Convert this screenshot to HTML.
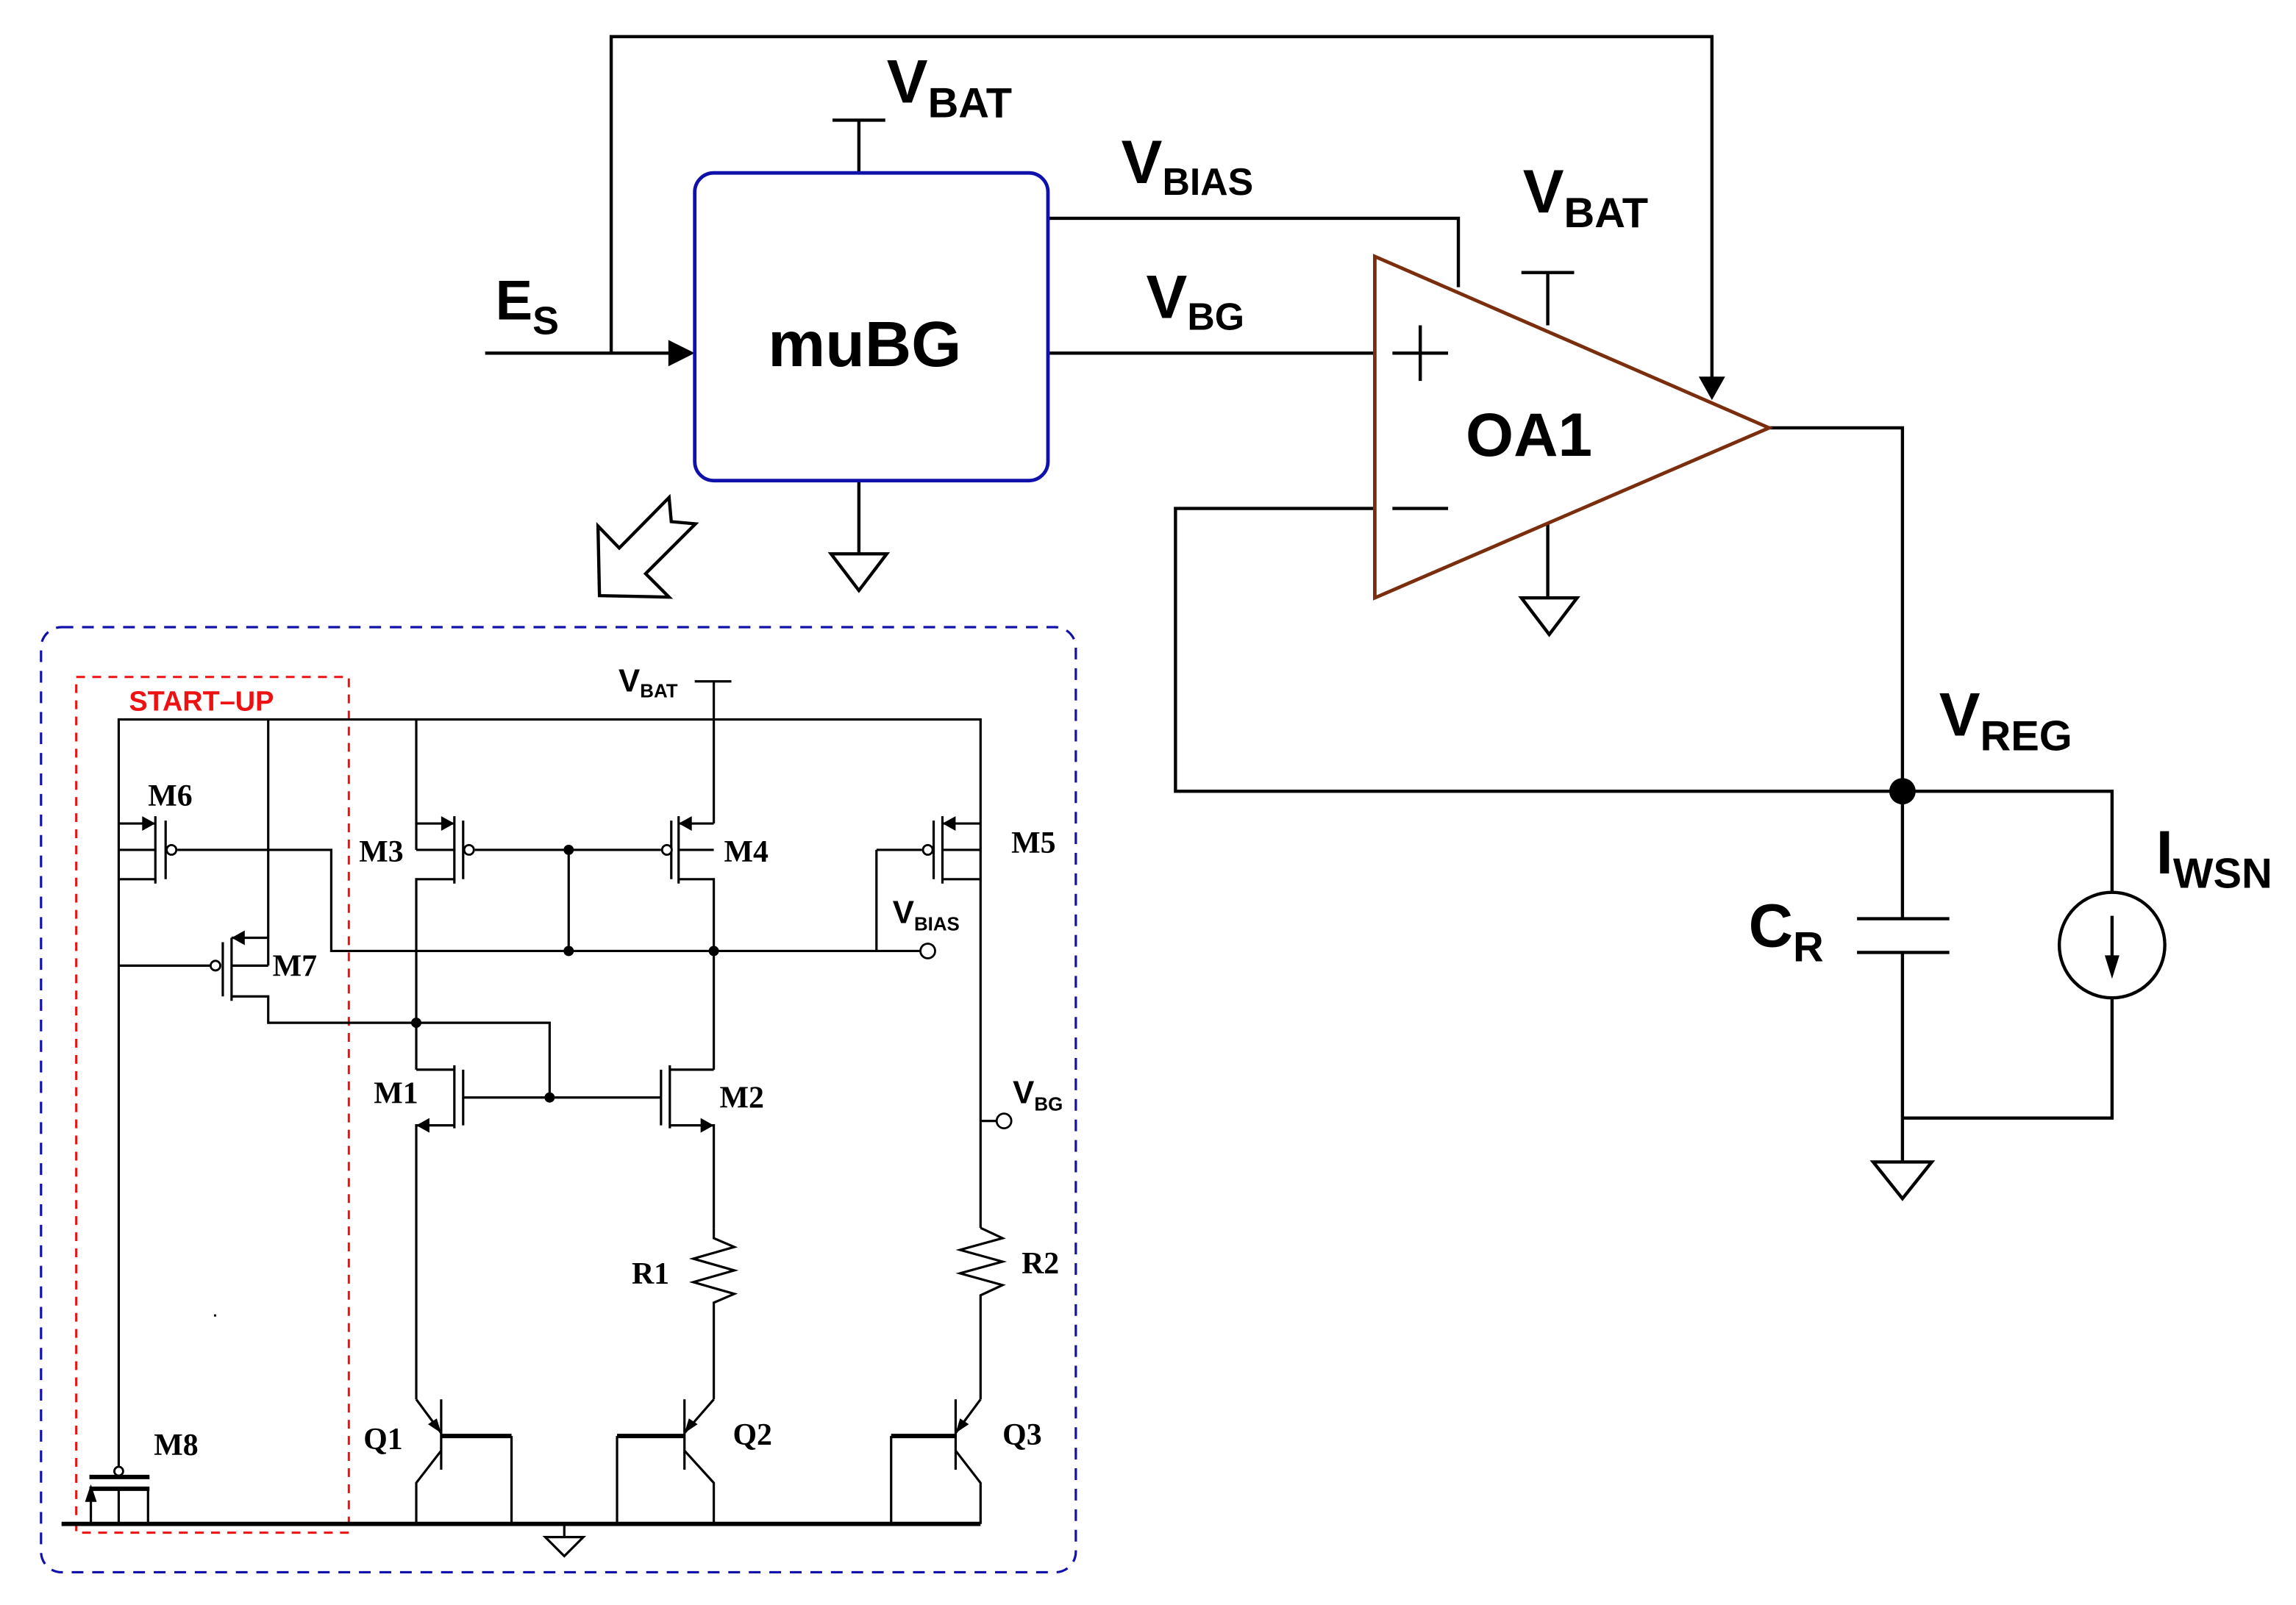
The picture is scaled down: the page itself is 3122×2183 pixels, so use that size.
<!DOCTYPE html>
<html><head><meta charset="utf-8"><style>
html,body{margin:0;padding:0;background:#fff;}
svg{display:block;}
.s{font-family:"Liberation Sans",sans-serif;font-weight:bold;}
.r{font-family:"Liberation Serif",serif;font-weight:bold;font-size:21px;}
</style></head><body>
<svg width="3122" height="2183" viewBox="0 0 1566.5 1095.3" preserveAspectRatio="xMinYMin meet" xmlns="http://www.w3.org/2000/svg">
<rect width="1566.5" height="1095.3" fill="#fff"/>
<g fill="none" stroke="#000" stroke-width="2.2">
<polyline points="417,241 417,25 1168,25 1168,262"/>
<line x1="331" y1="241" x2="460" y2="241"/>
<line x1="586" y1="118" x2="586" y2="82"/><line x1="568" y1="82" x2="604" y2="82"/>
<line x1="586" y1="328" x2="586" y2="378"/>
<polygon points="567,378 605,378 586,403"/>
<polyline points="715,149 995,149 995,196"/>
<line x1="715" y1="241" x2="938" y2="241"/>
<line x1="1056" y1="186" x2="1056" y2="222"/><line x1="1038" y1="186" x2="1074" y2="186"/>
<line x1="1056" y1="358" x2="1056" y2="408"/>
<polygon points="1038,408 1076,408 1057,433"/>
<polyline points="1207,292 1298,292 1298,627"/>
<polyline points="938,347 802,347 802,540 1441,540 1441,609"/>
<line x1="1298" y1="650" x2="1298" y2="763"/>
<line x1="1267" y1="627" x2="1330" y2="627"/><line x1="1267" y1="650" x2="1330" y2="650"/>
<circle cx="1441" cy="645" r="36"/>
<polyline points="1441,681 1441,763 1298,763"/>
<line x1="1298" y1="763" x2="1298" y2="793"/>
<polygon points="1278,793 1318,793 1298,818"/>
<line x1="1441" y1="625" x2="1441" y2="660"/>
<line x1="950" y1="241" x2="988" y2="241"/><line x1="969" y1="222" x2="969" y2="260"/>
<line x1="950" y1="347" x2="988" y2="347"/>
<polygon points="408,359 422.5,374 456.5,339.5 458,356 474.5,357.5 440.5,391.5 456.5,407.5 409,406.5"/>
</g>
<polygon points="456,232 474,241 456,250" fill="#000"/>
<polygon points="1159,257 1177,257 1168,273" fill="#000"/>
<polygon points="1436,652 1446,652 1441,668" fill="#000"/>
<circle cx="1298" cy="540" r="9" fill="#000"/>
<rect x="474" y="118" width="241" height="210" rx="13" fill="none" stroke="#1010aa" stroke-width="2.4"/>
<polygon points="938,175 1207,292 938,408" fill="none" stroke="#7a2e0e" stroke-width="2.4"/>
<g class="s" fill="#000">
<text x="338" y="218" font-size="38">E<tspan font-size="27" dy="10">S</tspan></text>
<text x="605" y="70" font-size="42">V<tspan font-size="29" dy="10">BAT</tspan></text>
<text x="765" y="125" font-size="42">V<tspan font-size="26" dy="8">BIAS</tspan></text>
<text x="782" y="217" font-size="42">V<tspan font-size="26" dy="8">BG</tspan></text>
<text x="1039" y="145" font-size="42">V<tspan font-size="29" dy="10">BAT</tspan></text>
<text x="524" y="250" font-size="44">muBG</text>
<text x="1000" y="311" font-size="42">OA1</text>
<text x="1323" y="502" font-size="42">V<tspan font-size="29" dy="10">REG</tspan></text>
<text x="1193" y="646" font-size="42">C<tspan font-size="29" dy="10">R</tspan></text>
<text x="1471" y="596" font-size="42">I<tspan font-size="29" dy="10">WSN</tspan></text>
</g>
<rect x="28" y="428" width="706" height="645" rx="14" fill="none" stroke="#1010aa" stroke-width="1.6" stroke-dasharray="8,6"/>
<rect x="52" y="462" width="186" height="584" fill="none" stroke="#ee1111" stroke-width="1.5" stroke-dasharray="6,5"/>
<text x="88" y="485" class="s" font-size="19" fill="#ee1111">START–UP</text>
<g fill="none" stroke="#000" stroke-width="1.6">
<polyline points="81,1003 81,491 669,491 669,838"/>
<line x1="183" y1="491" x2="183" y2="659"/>
<line x1="284" y1="491" x2="284" y2="580"/>
<line x1="487" y1="465" x2="487" y2="562"/><line x1="474" y1="465" x2="499" y2="465"/>
<line x1="81" y1="562" x2="106" y2="562"/><line x1="81" y1="580" x2="106" y2="580"/><line x1="81" y1="600" x2="106" y2="600"/>
<line x1="106" y1="557" x2="106" y2="603"/><line x1="113" y1="560" x2="113" y2="600"/>
<polyline points="121,580 226,580 226,649 633,649"/>
<line x1="598" y1="580" x2="598" y2="649"/>
<line x1="81" y1="659" x2="143" y2="659"/>
<line x1="152" y1="643" x2="152" y2="680"/><line x1="158" y1="640" x2="158" y2="683"/>
<line x1="158" y1="640" x2="183" y2="640"/><line x1="158" y1="659" x2="183" y2="659"/>
<polyline points="158,680 183,680 183,698 375,698 375,749"/>
<line x1="284" y1="562" x2="310" y2="562"/><line x1="284" y1="580" x2="310" y2="580"/>
<polyline points="284,730 284,600 310,600"/>
<line x1="310" y1="557" x2="310" y2="603"/><line x1="316" y1="560" x2="316" y2="600"/>
<line x1="324" y1="580" x2="451" y2="580"/><line x1="388" y1="580" x2="388" y2="649"/>
<line x1="458" y1="560" x2="458" y2="600"/><line x1="463" y1="557" x2="463" y2="603"/>
<line x1="463" y1="562" x2="487" y2="562"/><line x1="463" y1="580" x2="487" y2="580"/>
<polyline points="463,600 487,600 487,730"/>
<line x1="598" y1="580" x2="629" y2="580"/>
<line x1="637" y1="560" x2="637" y2="600"/><line x1="643" y1="557" x2="643" y2="603"/>
<line x1="643" y1="562" x2="669" y2="562"/><line x1="643" y1="580" x2="669" y2="580"/><line x1="643" y1="600" x2="669" y2="600"/>
<line x1="669" y1="765" x2="680" y2="765"/>
<line x1="284" y1="730" x2="310" y2="730"/>
<line x1="310" y1="727" x2="310" y2="770"/><line x1="316" y1="730" x2="316" y2="768"/>
<line x1="316" y1="749" x2="451" y2="749"/>
<polyline points="310,768 284,768 284,955"/>
<line x1="451" y1="730" x2="451" y2="768"/><line x1="457" y1="727" x2="457" y2="770"/>
<line x1="457" y1="730" x2="487" y2="730"/>
<polyline points="457,768 487,768 487,838"/>
<polyline points="487,838 487,845 501,851 473,859 501,867 473,875 501,883 487,889 487,955"/>
<polyline points="669,838 684,845 655,853 684,861 655,869 684,877 669,884 669,955"/>
<polyline points="284,955 301,978"/><polyline points="301,990 284,1012 284,1040"/>
<line x1="301" y1="955" x2="301" y2="1003"/>
<polyline points="487,955 467,978"/><polyline points="467,990 487,1012 487,1040"/>
<line x1="467" y1="955" x2="467" y2="1003"/>
<line x1="421" y1="980" x2="421" y2="1040"/>
<polyline points="669,955 652,978"/><polyline points="652,990 669,1012 669,1040"/>
<line x1="652" y1="955" x2="652" y2="1003"/>
<line x1="608" y1="980" x2="608" y2="1040"/>
<line x1="349" y1="980" x2="349" y2="1040"/>
<line x1="385" y1="1040" x2="385" y2="1049"/>
<polygon points="372,1049 398,1049 385,1062"/>
<line x1="62" y1="1015" x2="62" y2="1040"/><line x1="81" y1="1015" x2="81" y2="1040"/><line x1="101" y1="1015" x2="101" y2="1040"/>
</g>
<g fill="none" stroke="#000" stroke-width="3">
<line x1="42" y1="1040" x2="669" y2="1040"/>
<line x1="301" y1="980" x2="349" y2="980"/><line x1="421" y1="980" x2="467" y2="980"/><line x1="608" y1="980" x2="652" y2="980"/>
<line x1="61" y1="1008" x2="102" y2="1008"/><line x1="61" y1="1016" x2="102" y2="1016"/>
</g>
<g fill="#fff" stroke="#000" stroke-width="1.4">
<circle cx="117" cy="580" r="3.3"/><circle cx="320" cy="580" r="3.3"/><circle cx="455" cy="580" r="3.3"/>
<circle cx="633" cy="580" r="3.3"/><circle cx="147" cy="659" r="3.3"/><circle cx="81" cy="1004" r="3"/>
<circle cx="633" cy="649" r="5"/><circle cx="685" cy="765" r="5"/>
</g>
<g fill="#000">
<circle cx="388" cy="580" r="3.5"/><circle cx="388" cy="649" r="3.5"/><circle cx="487" cy="649" r="3.5"/>
<circle cx="284" cy="698" r="3.5"/><circle cx="375" cy="749" r="3.5"/>
<polygon points="106,562 97,557 97,567"/><polygon points="310,562 301,557 301,567"/>
<polygon points="463,562 472,557 472,567"/><polygon points="643,562 652,557 652,567"/>
<polygon points="158,640 167,635 167,645"/>
<polygon points="284,768 293,763 293,773"/><polygon points="487,768 478,763 478,773"/>
<polygon points="301,978 292,972 298,968"/><polygon points="467,978 470,968 476,972"/><polygon points="652,978 655,968 661,972"/>
<polygon points="62,1013 58,1025 66,1025"/>
<rect x="146" y="897" width="1.5" height="1.5"/>
</g>
<g class="r" fill="#000">
<text x="101" y="550">M6</text><text x="245" y="588">M3</text><text x="494" y="588">M4</text>
<text x="690" y="582">M5</text><text x="186" y="666">M7</text><text x="255" y="753">M1</text>
<text x="491" y="756">M2</text><text x="431" y="876">R1</text><text x="697" y="869">R2</text>
<text x="248" y="989">Q1</text><text x="500" y="986">Q2</text><text x="684" y="986">Q3</text>
<text x="105" y="993">M8</text>
</g>
<g class="s" fill="#000">
<text x="422" y="472" font-size="22">V<tspan font-size="13" dy="4">BAT</tspan></text>
<text x="609" y="630" font-size="22">V<tspan font-size="13" dy="5">BIAS</tspan></text>
<text x="691" y="753" font-size="22">V<tspan font-size="13" dy="5">BG</tspan></text>
</g>
</svg>
</body></html>
